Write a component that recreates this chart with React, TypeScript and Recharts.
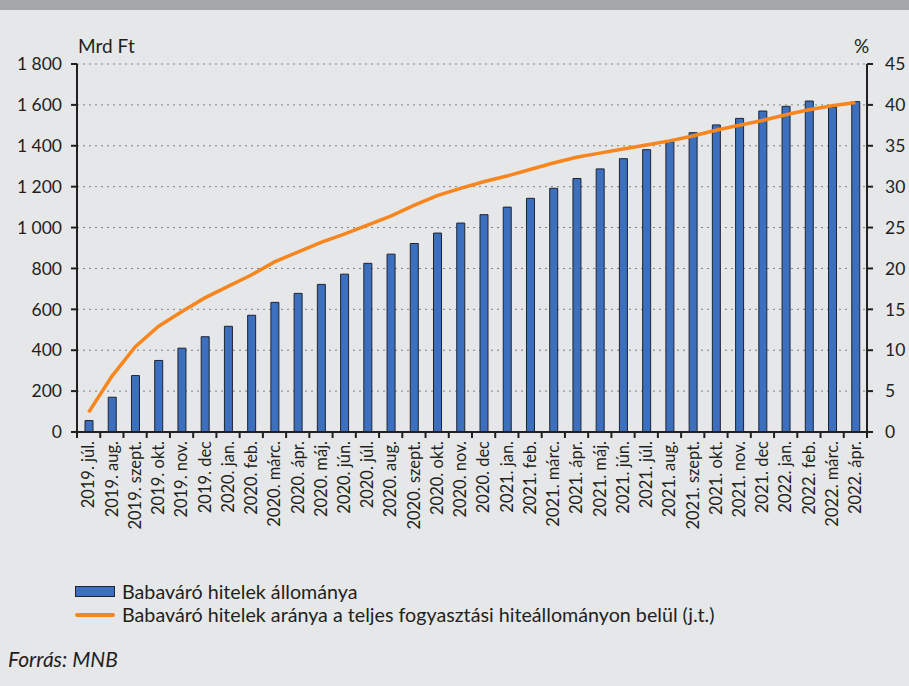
import { ComposedChart, Bar, Line, XAxis, YAxis, CartesianGrid } from 'recharts'

const months = [
  '2019. júl.', '2019. aug.', '2019. szept.', '2019. okt.', '2019. nov.', '2019. dec',
  '2020. jan.', '2020. feb.', '2020. márc.', '2020. ápr.', '2020. máj.', '2020. jún.',
  '2020. júl.', '2020. aug.', '2020. szept.', '2020. okt.', '2020. nov.', '2020. dec',
  '2021. jan.', '2021. feb.', '2021. márc.', '2021. ápr.', '2021. máj.', '2021. jún.',
  '2021. júl.', '2021. aug.', '2021. szept.', '2021. okt.', '2021. nov.', '2021. dec',
  '2022. jan.', '2022. feb.', '2022. márc.', '2022. ápr.',
]

// Mrd Ft
const stock = [
  56, 170, 276, 350, 410, 466, 517, 571, 634, 678, 722, 772,
  825, 870, 922, 973, 1022, 1063, 1100, 1143, 1192, 1240, 1287, 1337,
  1381, 1420, 1464, 1502, 1534, 1570, 1593, 1619, 1588, 1616,
]

// % (right axis)
const share = [
  2.4, 6.8, 10.4, 12.9, 14.7, 16.4, 17.8, 19.2, 20.8, 22.0, 23.2, 24.2,
  25.3, 26.4, 27.7, 28.9, 29.8, 30.6, 31.3, 32.1, 32.9, 33.6, 34.1, 34.6,
  35.1, 35.6, 36.2, 36.9, 37.5, 38.1, 38.8, 39.4, 39.9, 40.3,
]

const leftTicks = [0, 200, 400, 600, 800, 1000, 1200, 1400, 1600, 1800]
const rightTicks = [0, 5, 10, 15, 20, 25, 30, 35, 40, 45]

const data = months.map((m, i) => ({ month: m, stock: stock[i], share: share[i] }))

const FONT = 'Lato, "Open Sans", sans-serif'
const INK = '#231f20'
const BLUE = '#3c6fbe'
const ORANGE = '#f7861e'

const fmt = (v: number) => String(v).replace(/\B(?=(\d{3})+(?!\d))/g, ' ')

function MonthTick(props: any) {
  const { x, y, payload, index } = props
  const half = payload && payload.offset ? payload.offset : 790 / 34 / 2
  return (
    <g>
      <line x1={x - half} x2={x - half} y1={y} y2={y + 6} stroke={INK} strokeWidth={2} />
      {index === months.length - 1 && (
        <line x1={x + half} x2={x + half} y1={y} y2={y + 6} stroke={INK} strokeWidth={2} />
      )}
      <text
        x={x}
        y={y + 9}
        transform={`rotate(-90, ${x}, ${y + 9})`}
        textAnchor="end"
        dy="0.35em"
        fontSize={16.5}
        fill={INK}
        fontFamily={FONT}
      >
        {payload.value}
      </text>
    </g>
  )
}

export default function App() {
  return (
    <div
      style={{
        position: 'absolute',
        left: 0,
        top: 0,
        width: 909,
        height: 686,
        background: '#e6e7e9',
        fontFamily: FONT,
        color: INK,
        overflow: 'hidden',
      }}
    >
      <div style={{ position: 'absolute', left: 0, top: 0, width: 909, height: 10, background: '#a6a7aa' }} />
      <div style={{ position: 'absolute', left: 78, top: 34, fontSize: 19 }}>Mrd Ft</div>
      <div style={{ position: 'absolute', left: 854, top: 34, fontSize: 19 }}>%</div>

      <div style={{ position: 'absolute', left: 0, top: 0 }}>
        <ComposedChart
          width={909}
          height={560}
          data={data}
          margin={{ top: 64, right: 0, left: 0, bottom: 0 }}
          barCategoryGap={0}
        >
          <CartesianGrid
            yAxisId="left"
            vertical={false}
            stroke="#7f7f7f"
            strokeDasharray="2 4"
          />
          <XAxis
            dataKey="month"
            interval={0}
            height={128}
            tickLine={false}
            tickSize={0}
            tickMargin={0}
            axisLine={{ stroke: INK, strokeWidth: 2 }}
            tick={(p: any) => <MonthTick {...p} />}
          />
          <YAxis
            yAxisId="left"
            width={77}
            domain={[0, 1800]}
            ticks={leftTicks}
            tickFormatter={fmt}
            interval={0}
            tickSize={6}
            tickMargin={9}
            axisLine={{ stroke: INK, strokeWidth: 2 }}
            tickLine={{ stroke: INK, strokeWidth: 2 }}
            tick={{ fill: INK, fontSize: 17.5, fontFamily: FONT }}
          />
          <YAxis
            yAxisId="right"
            orientation="right"
            width={42}
            domain={[0, 45]}
            ticks={rightTicks}
            interval={0}
            tickSize={6}
            tickMargin={12}
            axisLine={{ stroke: INK, strokeWidth: 2 }}
            tickLine={{ stroke: INK, strokeWidth: 2 }}
            tick={{ fill: INK, fontSize: 17.5, fontFamily: FONT, textAnchor: 'start' }}
          />
          <Bar
            yAxisId="left"
            dataKey="stock"
            barSize={8}
            fill={BLUE}
            stroke="#1e2430"
            strokeWidth={1}
            isAnimationActive={false}
          />
          <Line
            yAxisId="right"
            dataKey="share"
            type="linear"
            stroke={ORANGE}
            strokeWidth={3.5}
            dot={false}
            activeDot={false}
            isAnimationActive={false}
          />
        </ComposedChart>
      </div>

      <div style={{ position: 'absolute', left: 75, top: 580, fontSize: 19.7, lineHeight: '23px' }}>
        <div style={{ display: 'flex', alignItems: 'center' }}>
          <span
            style={{
              display: 'inline-block',
              width: 40,
              height: 11,
              background: BLUE,
              border: '1px solid #1e2430',
              boxSizing: 'border-box',
              marginRight: 7,
            }}
          />
          Babaváró hitelek állománya
        </div>
        <div style={{ display: 'flex', alignItems: 'center' }}>
          <span
            style={{
              display: 'inline-block',
              width: 40,
              height: 4,
              background: ORANGE,
              borderRadius: 2,
              marginRight: 7,
            }}
          />
          Babaváró hitelek aránya a teljes fogyasztási hiteállományon belül (j.t.)
        </div>
      </div>

      <div style={{ position: 'absolute', left: 8, top: 646, fontSize: 21, fontStyle: 'italic' }}>
        Forrás: MNB
      </div>
    </div>
  )
}
